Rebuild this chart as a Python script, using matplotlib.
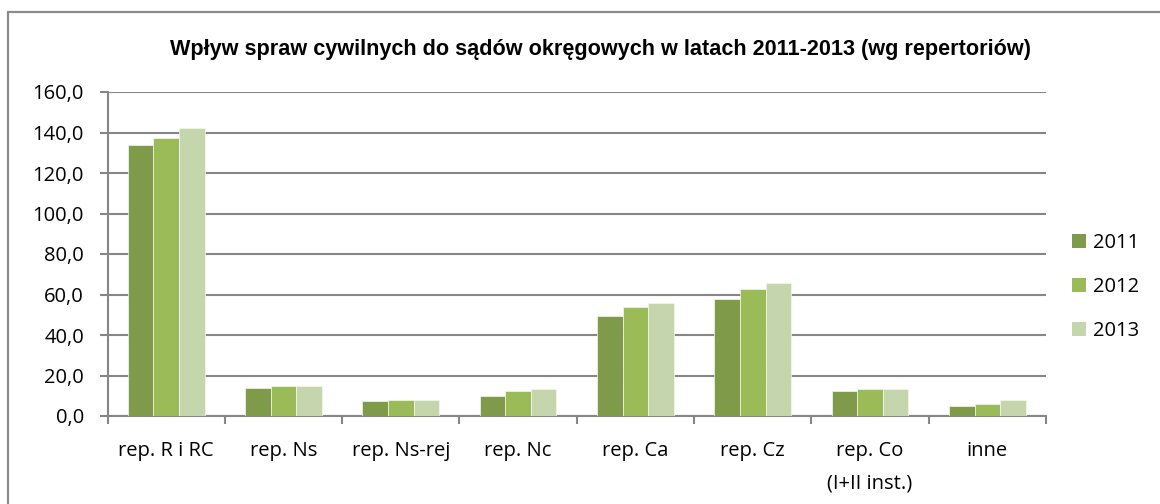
import matplotlib
matplotlib.use("Agg")
import matplotlib.pyplot as plt
from matplotlib.patches import Rectangle
import numpy as np

categories = ["rep. R i RC", "rep. Ns", "rep. Ns-rej", "rep. Nc", "rep. Ca",
              "rep. Cz", "rep. Co\n(I+II inst.)", "inne"]
years = ["2011", "2012", "2013"]
v2011 = [133.7, 13.8, 7.6, 9.8, 49.4, 58.0, 12.4, 4.7]
v2012 = [137.3, 15.0, 7.9, 12.1, 53.6, 62.5, 13.2, 5.7]
v2013 = [142.4, 15.0, 8.0, 13.4, 55.7, 65.7, 13.2, 8.1]
yticks = [0, 20, 40, 60, 80, 100, 120, 140, 160]
title = "Wpływ spraw cywilnych do sądów okręgowych w latach 2011-2013 (wg repertoriów)"

colors = ["#7F9A48", "#9BBB59", "#C6D6AC"]
series = [v2011, v2012, v2013]

W, H = 1160, 504
fig = plt.figure(figsize=(W / 100, H / 100), dpi=100)
fig.patch.set_facecolor("white")

# outer chart border (only top & left visible)
fig.patches.append(Rectangle((7.5 / W, -0.1), 1.2, (504 - 11.5) / H + 0.1,
                             transform=fig.transFigure, fill=False,
                             edgecolor="#8C8C8C", linewidth=1.6))

left, right, top, bottom = 107.5, 1046, 92, 416
ax = fig.add_axes([left / W, (H - bottom) / H, (right - left) / W, (bottom - top) / H])

x = np.arange(len(categories))
bw = 0.218
for i, (vals, c, yr) in enumerate(zip(series, colors, years)):
    ax.bar(x + (i - 1) * bw, vals, width=bw, color=c, edgecolor="#F4F8EE",
           linewidth=0.5, label=yr, zorder=3)

ax.set_xlim(-0.5, len(categories) - 0.5)
ax.set_ylim(0, 160)
ax.set_yticks(yticks)
ax.set_yticklabels([f"{v:.1f}".replace(".", ",") for v in yticks])
ax.yaxis.grid(True, color="#868686", linewidth=1.5, zorder=0)
ax.set_axisbelow(True)

for s in ["top", "right"]:
    ax.spines[s].set_visible(False)
for s in ["left", "bottom"]:
    ax.spines[s].set_color("#868686")
    ax.spines[s].set_linewidth(1.5)

font = "Open Sans"
fs = 14.5
ax.set_xticks(x)
ax.set_xticklabels(categories, fontsize=fs, family=font, linespacing=1.85,
                   verticalalignment="top")
ax.set_xticks(np.arange(len(categories) + 1) - 0.5, minor=True)
ax.tick_params(axis="x", which="major", length=0, pad=18)
ax.tick_params(axis="x", which="minor", length=6, color="#868686", width=1.5, direction="out")
ax.tick_params(axis="y", length=6, color="#868686", width=1.5, pad=11)
for lbl in ax.get_yticklabels():
    lbl.set_fontsize(fs)
    lbl.set_family(font)

fig.text(600 / W, 1 - 50 / H, title, ha="center", va="center",
         fontsize=15.6, fontweight="bold", family="Liberation Sans")

leg = fig.legend(loc="upper left", bbox_to_anchor=(1066 / W, 1 - 227 / H),
                 frameon=False, prop={"family": font, "size": fs},
                 handlelength=0.7, handleheight=0.7, handletextpad=0.35,
                 labelspacing=1.2, borderaxespad=0, borderpad=0.3)
for h in leg.legend_handles:
    h.set_edgecolor("none")

fig.savefig("out.png", dpi=100)
